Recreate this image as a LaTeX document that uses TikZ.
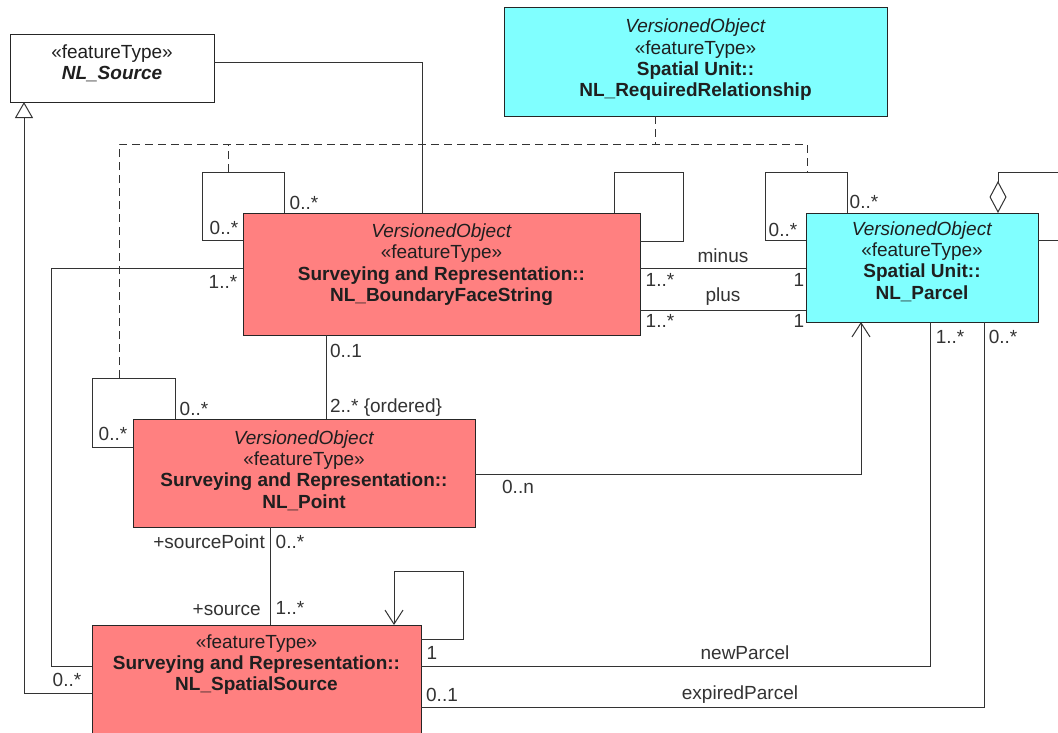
\documentclass[tikz,border=0pt]{standalone}
\usepackage{fontspec}
\setmainfont{Liberation Sans}
\usetikzlibrary{arrows.meta}
\definecolor{salmon}{HTML}{FF8080}
\definecolor{cyanbox}{HTML}{80FFFF}
\begin{document}
\begin{tikzpicture}[x=1pt,y=-1pt,
  box/.style={draw=black!85, line width=1pt, anchor=north west, inner sep=0pt, outer sep=0pt},
  cls/.style={align=center, font=\fontsize{19}{21.3}\selectfont, text=black!88, inner sep=0pt},
  lbl/.style={font=\fontsize{19}{21.3}\selectfont, text=black!80, inner sep=0pt},
  conn/.style={draw=black!80, line width=1pt},
  dep/.style={conn, dash pattern=on 8pt off 5pt},
  nav/.style={conn, -{Straight Barb[length=14pt,width=18pt,line width=1pt]}},
  gen/.style={conn, -{Triangle[open,length=16pt,width=18pt,line width=1pt]}},
  agg/.style={conn, {Diamond[open,length=32pt,width=17pt,line width=1pt]}-}]
\clip (0,0) rectangle (1058,732);
\fill[white] (0,0) rectangle (1058,732);

% boxes
\node[box, minimum width=204pt, minimum height=68pt] (src) at (10,34) {};
\node[box, fill=cyanbox, minimum width=383pt, minimum height=109pt] (rr) at (504,7) {};
\node[box, fill=salmon, minimum width=397pt, minimum height=122pt] (bfs) at (243,213) {};
\node[box, fill=cyanbox, minimum width=232pt, minimum height=109pt] (parcel) at (806,213) {};
\node[box, fill=salmon, minimum width=342pt, minimum height=108pt] (point) at (133,419) {};
\node[box, fill=salmon, minimum width=329pt, minimum height=140pt] (ss) at (92,625) {};

% box texts
\node[cls] (srcT) at (112,63.5) {«featureType»\\\textbf{\textit{NL\_Source}}};
\node[cls] (rrT) at (695.5,60) {\textit{VersionedObject}\\«featureType»\\\textbf{Spatial Unit::}\\\textbf{NL\_RequiredRelationship}};
\node[cls] (bfsT) at (441.5,264.5) {\textit{VersionedObject}\\«featureType»\\\textbf{Surveying and Representation::}\\\textbf{NL\_BoundaryFaceString}};
\node[cls] (parcelT) at (922,261.5) {\textit{VersionedObject}\\«featureType»\\\textbf{Spatial Unit::}\\\textbf{NL\_Parcel}};
\node[cls] (pointT) at (304,470.5) {\textit{VersionedObject}\\«featureType»\\\textbf{Surveying and Representation::}\\\textbf{NL\_Point}};
\node[cls] (ssT) at (256.5,664.5) {«featureType»\\\textbf{Surveying and Representation::}\\\textbf{NL\_SpatialSource}};

% loop anchor coordinates
\coordinate (bfsloop) at (228,172);
\coordinate (ptloop) at (119,378);
\coordinate (parloop) at (807,172);
\coordinate (dj) at (655,144);

% source -- bfs
\draw[conn] ([yshift=6pt]src.east) -| ([xshift=179pt]bfs.north west);

% association class dashed lines
\draw[dep] ([xshift=151pt]rr.south west) -- (dj);
\draw[dep] (ptloop) -- (119,144) -- (807,144) -- (parloop);
\draw[dep] (bfsloop) -- (228,144);

% BFS self loops
\draw[conn] ([xshift=41pt]bfs.north west) |- (202,172) |- ([yshift=-27pt]bfs.north west);
\draw[conn] ([xshift=371pt]bfs.north west) |- (683,172) |- ([yshift=-28pt]bfs.north east);

% minus / plus
\draw[conn] ([yshift=-55pt]bfs.north east) -- ([yshift=-55pt]parcel.north west);
\draw[conn] ([yshift=-97pt]bfs.north east) -- ([yshift=-97pt]parcel.north west);

% parcel self loop and aggregation
\draw[conn] ([xshift=41pt]parcel.north west) |- (765,172) |- ([yshift=-27pt]parcel.north west);
\draw[agg] ([xshift=192pt]parcel.north west) |- (1080,172) |- ([yshift=-27pt]parcel.north east);

% BFS -- Point
\draw[conn] ([xshift=83pt]bfs.south west) -- ([xshift=193pt]point.north west);

% point self loop
\draw[conn] ([xshift=42pt]point.north west) |- (92,378) |- ([yshift=-28pt]point.north west);

% point -> parcel
\draw[nav] ([yshift=-55pt]point.north east) -| ([xshift=55pt]parcel.south west);

% point -- spatial source
\draw[conn] ([xshift=137pt]point.south west) -- ([xshift=178pt]ss.north west);

% spatial source self loop
\draw[nav] ([yshift=-14pt]ss.north east) -| (463,571) -| ([xshift=302pt]ss.north west);

% newParcel / expiredParcel
\draw[conn] ([yshift=-41pt]ss.north east) -| ([xshift=124pt]parcel.south west);
\draw[conn] ([yshift=-82pt]ss.north east) -| ([xshift=178pt]parcel.south west);

% BFS -- spatial source (left)
\draw[conn] ([yshift=-55pt]bfs.north west) -| (51,666) -- ([yshift=-41pt]ss.north west);

% generalization
\draw[gen] ([yshift=-68pt]ss.north west) -| ([xshift=14pt]src.south west);

% labels
\node[lbl] (l1) at (304,203) {0..*};
\node[lbl] (l2) at (224,228) {0..*};
\node[lbl] (l3) at (223,282) {1..*};
\node[lbl] (l4) at (346,351) {0..1};
\node[lbl] (l5) at (386,408) {2..* \{ordered\}};
\node[lbl] (l6) at (194,409) {0..*};
\node[lbl] (l7) at (113,434) {0..*};
\node[lbl] (l8) at (723,256) {minus};
\node[lbl] (l9) at (660,280) {1..*};
\node[lbl] (l10) at (799,280) {1};
\node[lbl] (l11) at (723,297) {plus};
\node[lbl] (l12) at (660,321) {1..*};
\node[lbl] (l13) at (799,321) {1};
\node[lbl] (l14) at (864,202) {0..*};
\node[lbl] (l15) at (783,230) {0..*};
\node[lbl] (l16) at (518,487) {0..n};
\node[lbl, anchor=east] (l17) at (265,542) {+sourcePoint};
\node[lbl] (l18) at (290,542) {0..*};
\node[lbl, anchor=east] (l19) at (261,610) {+source};
\node[lbl] (l20) at (290,608) {1..*};
\node[lbl] (l21) at (432,653) {1};
\node[lbl] (l22) at (442,695) {0..1};
\node[lbl] (l23) at (745,653) {newParcel};
\node[lbl] (l24) at (740,695) {expiredParcel};
\node[lbl] (l25) at (950,337) {1..*};
\node[lbl] (l26) at (1003,337) {0..*};
\node[lbl] (l27) at (67,680) {0..*};
\end{tikzpicture}
\end{document}
